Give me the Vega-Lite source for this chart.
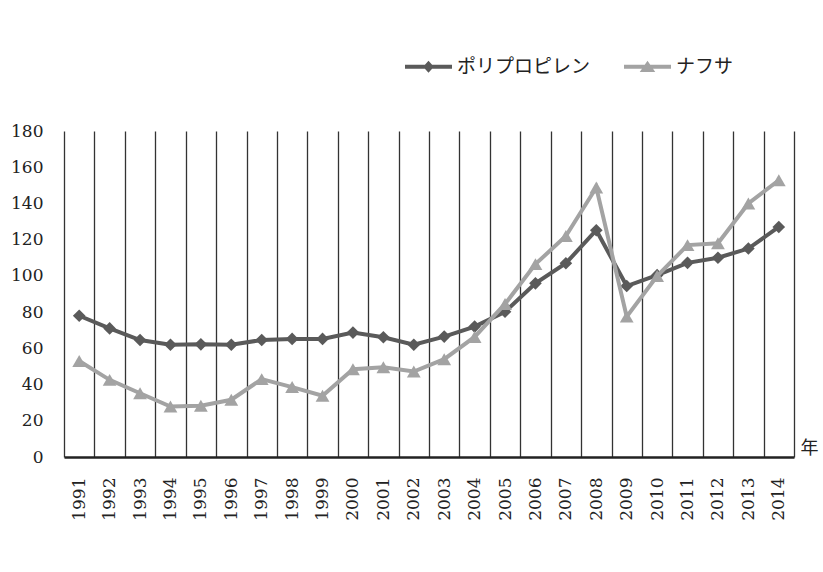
{
  "$schema": "https://vega.github.io/schema/vega-lite/v6.json",
  "width": 730,
  "height": 326,
  "autosize": {"type": "none"},
  "padding": {"left": 64, "top": 131, "right": 29, "bottom": 115},
  "background": "#ffffff",
  "config": {
    "view": {"stroke": null}
  },
  "data": {
    "values": [
      {"year": "1991", "series": "ポリプロピレン", "value": 78},
      {"year": "1992", "series": "ポリプロピレン", "value": 71},
      {"year": "1993", "series": "ポリプロピレン", "value": 64.6},
      {"year": "1994", "series": "ポリプロピレン", "value": 62},
      {"year": "1995", "series": "ポリプロピレン", "value": 62.2},
      {"year": "1996", "series": "ポリプロピレン", "value": 62},
      {"year": "1997", "series": "ポリプロピレン", "value": 64.6},
      {"year": "1998", "series": "ポリプロピレン", "value": 65.2},
      {"year": "1999", "series": "ポリプロピレン", "value": 65.2},
      {"year": "2000", "series": "ポリプロピレン", "value": 68.7},
      {"year": "2001", "series": "ポリプロピレン", "value": 66.1},
      {"year": "2002", "series": "ポリプロピレン", "value": 62},
      {"year": "2003", "series": "ポリプロピレン", "value": 66.5},
      {"year": "2004", "series": "ポリプロピレン", "value": 72},
      {"year": "2005", "series": "ポリプロピレン", "value": 80.2},
      {"year": "2006", "series": "ポリプロピレン", "value": 95.9},
      {"year": "2007", "series": "ポリプロピレン", "value": 107},
      {"year": "2008", "series": "ポリプロピレン", "value": 125.2},
      {"year": "2009", "series": "ポリプロピレン", "value": 94.4},
      {"year": "2010", "series": "ポリプロピレン", "value": 100.4},
      {"year": "2011", "series": "ポリプロピレン", "value": 107.2},
      {"year": "2012", "series": "ポリプロピレン", "value": 110},
      {"year": "2013", "series": "ポリプロピレン", "value": 115.1},
      {"year": "2014", "series": "ポリプロピレン", "value": 127},
      {"year": "1991", "series": "ナフサ", "value": 53},
      {"year": "1992", "series": "ナフサ", "value": 42.6},
      {"year": "1993", "series": "ナフサ", "value": 35.2},
      {"year": "1994", "series": "ナフサ", "value": 27.9},
      {"year": "1995", "series": "ナフサ", "value": 28.3},
      {"year": "1996", "series": "ナフサ", "value": 31.6},
      {"year": "1997", "series": "ナフサ", "value": 43},
      {"year": "1998", "series": "ナフサ", "value": 38.6},
      {"year": "1999", "series": "ナフサ", "value": 33.8},
      {"year": "2000", "series": "ナフサ", "value": 48.5},
      {"year": "2001", "series": "ナフサ", "value": 49.6},
      {"year": "2002", "series": "ナフサ", "value": 47.2},
      {"year": "2003", "series": "ナフサ", "value": 54},
      {"year": "2004", "series": "ナフサ", "value": 66.3},
      {"year": "2005", "series": "ナフサ", "value": 84.5},
      {"year": "2006", "series": "ナフサ", "value": 106.5},
      {"year": "2007", "series": "ナフサ", "value": 122},
      {"year": "2008", "series": "ナフサ", "value": 148.8},
      {"year": "2009", "series": "ナフサ", "value": 77.5},
      {"year": "2010", "series": "ナフサ", "value": 99.9},
      {"year": "2011", "series": "ナフサ", "value": 117},
      {"year": "2012", "series": "ナフサ", "value": 118},
      {"year": "2013", "series": "ナフサ", "value": 140},
      {"year": "2014", "series": "ナフサ", "value": 152.8}
    ]
  },
  "encoding": {
    "x": {
      "field": "year",
      "type": "ordinal",
      "scale": {"paddingInner": 0, "paddingOuter": 0},
      "axis": {
        "title": "年",
        "titleFont": "Noto Sans CJK JP",
        "titleFontSize": 18,
        "titleFontWeight": "normal",
        "titleColor": "#222222",
        "titleX": 736,
        "titleY": 0,
        "titleAlign": "left",
        "titleBaseline": "bottom",
        "labelAngle": 270,
        "labelFont": "DejaVu Serif",
        "labelFontSize": 17,
        "labelColor": "#222222",
        "labelPadding": 20,
        "ticks": false,
        "tickSize": 0,
        "tickBand": "extent",
        "grid": true,
        "gridColor": "#333333",
        "gridWidth": 1.3,
        "gridOpacity": 1,
        "domainColor": "#222222",
        "domainWidth": 2.5
      }
    },
    "y": {
      "field": "value",
      "type": "quantitative",
      "scale": {"domain": [0, 180], "nice": false},
      "axis": {
        "title": null,
        "values": [0, 20, 40, 60, 80, 100, 120, 140, 160, 180],
        "domain": false,
        "ticks": false,
        "grid": false,
        "labelFont": "DejaVu Serif",
        "labelFontSize": 17,
        "labelColor": "#222222",
        "labelPadding": 21
      }
    },
    "color": {
      "field": "series",
      "type": "nominal",
      "scale": {
        "domain": ["ポリプロピレン", "ナフサ"],
        "range": ["#5a5a5a", "#a3a3a3"]
      },
      "legend": {
        "title": null,
        "orient": "none",
        "direction": "horizontal",
        "legendX": 341,
        "legendY": -88,
        "symbolSize": 2209,
        "symbolStrokeWidth": 0,
        "labelFont": "Noto Sans CJK JP",
        "labelFontSize": 19,
        "labelColor": "#222222",
        "labelOffset": 5,
        "labelLimit": 300,
        "columnPadding": 33,
        "encode": {
          "symbols": {
            "update": {
              "shape": {
                "signal": "datum.value === 'ナフサ' ? 'M-1,-0.085L1,-0.085L1,0.085L-1,0.085Z M-0.33,0.22L0,-0.26L0.33,0.22Z' : 'M-1,-0.085L1,-0.085L1,0.085L-1,0.085Z M-0.23,0L0,-0.26L0.23,0L0,0.26Z'"
              },
              "strokeWidth": {"value": 0}
            }
          }
        }
      }
    }
  },
  "layer": [
    {
      "transform": [{"filter": "datum.series === 'ポリプロピレン'"}],
      "mark": {"type": "line", "strokeWidth": 4},
      "encoding": {"order": {"field": "year"}}
    },
    {
      "transform": [{"filter": "datum.series === 'ポリプロピレン'"}],
      "mark": {"type": "point", "shape": "diamond", "filled": true, "opacity": 1, "size": 160}
    },
    {
      "transform": [{"filter": "datum.series === 'ナフサ'"}],
      "mark": {"type": "line", "strokeWidth": 4},
      "encoding": {"order": {"field": "year"}}
    },
    {
      "transform": [{"filter": "datum.series === 'ナフサ'"}],
      "mark": {"type": "point", "shape": "triangle-up", "filled": true, "opacity": 1, "size": 190}
    }
  ]
}
